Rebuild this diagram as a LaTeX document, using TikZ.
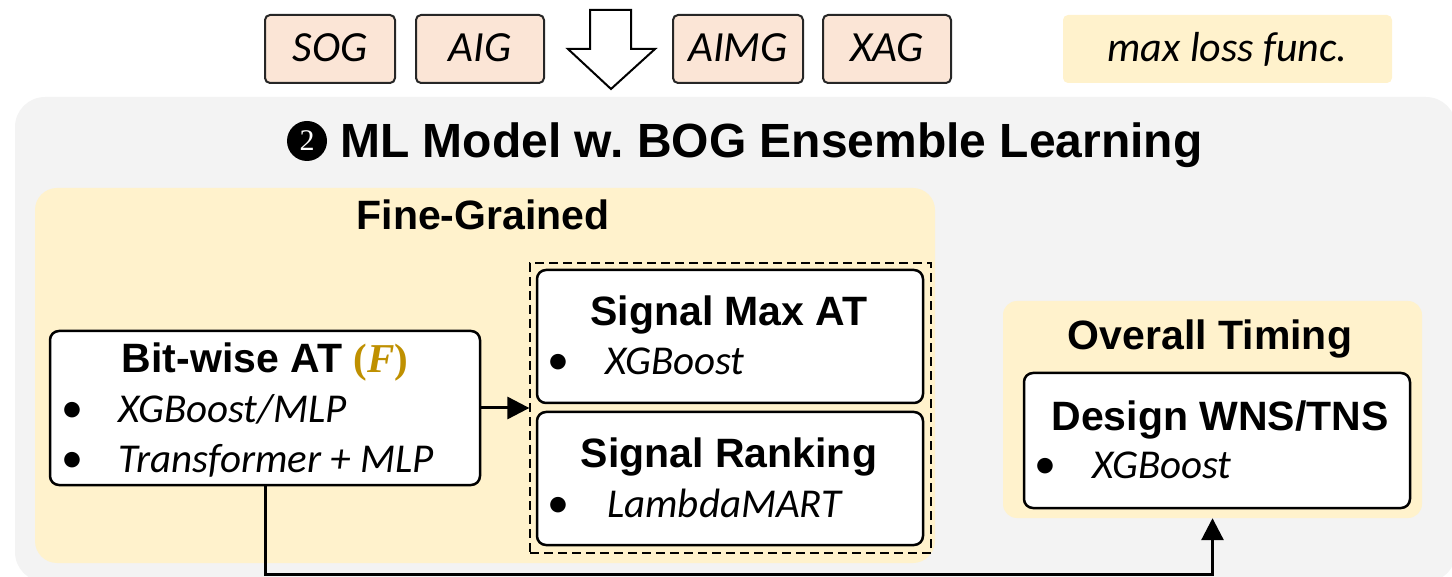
\documentclass[tikz,border=0pt]{standalone}
\usepackage{fontspec}
\setmainfont{Liberation Sans}
\newfontfamily\cali{Carlito}
\newfontfamily\serifbi{Liberation Serif}
\usetikzlibrary{arrows.meta}
\definecolor{pinkfill}{HTML}{FBE5D6}
\definecolor{yell}{HTML}{FFF2CC}
\definecolor{grayp}{HTML}{F3F3F3}
\definecolor{gold}{HTML}{BF9000}
\frenchspacing
\begin{document}
\begin{tikzpicture}[x=1pt,y=-1pt,
  tag/.style={draw=black!85, line width=2pt, fill=pinkfill, rounded corners=5pt, minimum height=68pt, inner sep=0pt, text height=26pt, text depth=0pt, font=\cali\itshape\fontsize{43}{43}\selectfont},
  wbox/.style={draw=black, line width=2.5pt, fill=white, rounded corners=9pt, inner sep=0pt},
  panel/.style={fill=yell, inner sep=0pt},
  head/.style={font=\bfseries\fontsize{41}{41}\selectfont, anchor=base, inner sep=0pt},
  item/.style={font=\cali\itshape\fontsize{41}{41}\selectfont, anchor=base west, inner sep=0pt},
  bul/.style={font=\cali\fontsize{44}{44}\selectfont, anchor=base, inner sep=0pt},
  conn/.style={line width=3pt, -{Triangle[length=22pt,width=22pt]}},
]
\useasboundingbox (0,0) rectangle (1452,577);
\begin{scope}
\clip (0,0) rectangle (1452,577);
\fill[grayp, rounded corners=30pt] (15,97) rectangle (1456,582);
\end{scope}

% top row
\node[tag, minimum width=130pt] (sog) at (330,49) {SOG};
\node[tag, minimum width=128pt] (aig) at (480,49) {AIG};
\node[tag, minimum width=130pt] (aimg) at (738,49) {AIMG};
\node[tag, minimum width=128pt] (xag) at (887,49) {XAG};
\draw[line width=2pt, fill=white, line join=miter] (590,10) -- (631,10) -- (631,49) -- (655,49) -- (611,89) -- (568,49) -- (590,49) -- cycle;
\node[fill=yell, rounded corners=5pt, minimum width=329pt, minimum height=68pt, inner sep=0pt, text height=26pt, text depth=0pt, font=\cali\itshape\fontsize{42}{42}\selectfont] (loss) at (1227.5,49) {max loss func.};

% title
\node[circle, fill=black, minimum size=40pt, inner sep=0pt, text=white, font=\serifbi\fontsize{30}{30}\selectfont] (num) at (307,141) {2};
\node[font=\bfseries\fontsize{48}{48}\selectfont, anchor=base west, inner sep=0pt] (title) at (340,158) {ML Model w. BOG Ensemble Learning};

% fine-grained panel
\node[panel, rounded corners=22pt, minimum width=900pt, minimum height=375pt] (fg) at (485,375.5) {};
\node[head] (fgt) at (483,230) {Fine-Grained};

% bit-wise box
\node[wbox, minimum width=430pt, minimum height=154pt] (bw) at (265,408) {};
\node[head] (bwt) at (265,373) {Bit-wise AT {\color{gold}\serifbi\bfseries(\textit{F})}};
\node[bul] (bwb1) at (72,422) {•};
\node[item] (bwi1) at (118,422) {XGBoost/MLP};
\node[bul] (bwb2) at (72,472) {•};
\node[item] (bwi2) at (118,472) {Transformer + MLP};

% dashed group
\node[draw, line width=1.3pt, dash pattern=on 9pt off 5pt, minimum width=401pt, minimum height=290pt, inner sep=0pt] (grp) at (730.5,408) {};
\node[wbox, minimum width=386pt, minimum height=133pt] (smax) at (730,336.5) {};
\node[head] (smaxt) at (729,326) {Signal Max AT};
\node[bul] (smaxb) at (558,375) {•};
\node[item] (smaxi) at (605,375) {XGBoost};
\node[wbox, minimum width=386pt, minimum height=133pt] (srank) at (730,478.5) {};
\node[head] (srankt) at (729,467) {Signal Ranking};
\node[bul] (srankb) at (558,517) {•};
\node[item] (sranki) at (607,517) {LambdaMART};

% overall timing
\node[panel, rounded corners=14pt, minimum width=419pt, minimum height=217pt] (ot) at (1212.5,409.5) {};
\node[head] (ott) at (1210,350) {Overall Timing};
\node[wbox, minimum width=386pt, minimum height=135pt] (wns) at (1217,440.5) {};
\node[head] (wnst) at (1220,430) {Design WNS/TNS};
\node[bul] (wnsb) at (1045,478) {•};
\node[item] (wnsi) at (1092,478) {XGBoost};

% connectors
\draw[conn] (bw.east) -- (grp.west);
\coordinate (low) at (265,574);
\draw[conn] (bw.south) -- (low) -| (ot.south);
\end{tikzpicture}
\end{document}
